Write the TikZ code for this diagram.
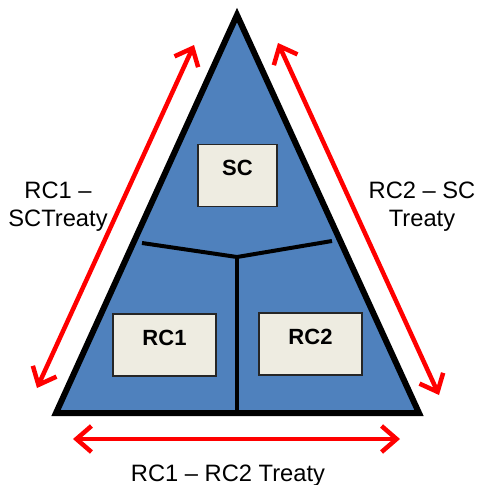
\documentclass[tikz,border=0pt]{standalone}
\usepackage{fontspec}
\setmainfont{Liberation Sans}
\usetikzlibrary{arrows.meta}
\definecolor{triblue}{HTML}{4F81BD}
\definecolor{boxbeige}{HTML}{EEECE1}
\tikzset{
  part/.style={draw=black!85, line width=1.5pt, fill=boxbeige, inner xsep=0pt, inner ysep=0pt,
    text height=31pt, text depth=31pt, font=\fontsize{22}{26}\selectfont\bfseries},
  treaty/.style={red, line width=4.5pt, {Straight Barb[length=15pt,width=26pt]}-{Straight Barb[length=15pt,width=26pt]}},
  caption/.style={align=center, anchor=base, font=\fontsize{23.7}{28}\selectfont}
}
\begin{document}
\begin{tikzpicture}[x=1pt, y=-1pt]
  \useasboundingbox (0,0) rectangle (477,485);
  \coordinate (top) at (237,15);
  \coordinate (left) at (56,413);
  \coordinate (right) at (419,413);
  \draw[line width=6pt, fill=triblue, line join=miter] (top) -- (left) -- (right) -- cycle;
  \coordinate (hub) at (237,257);
  \coordinate (cutl) at (142,243);
  \coordinate (cutr) at (332,241);
  \coordinate (foot) at (237,413);
  \draw[line width=4pt] (cutl) -- (hub) -- (cutr);
  \draw[line width=4pt] (hub) -- (foot);
  \node[part, minimum width=79pt] (sc) at (237.5,175.5) {SC};
  \node[part, minimum width=103pt] (rcone) at (164.5,345) {RC1};
  \node[part, minimum width=103pt] (rctwo) at (310.5,344) {RC2};
  \coordinate (la) at (37,388);
  \coordinate (lb) at (194,45);
  \coordinate (ra) at (278,43);
  \coordinate (rb) at (439,395);
  \coordinate (ba) at (73,439);
  \coordinate (bb) at (400,439);
  \draw[treaty] (la) -- (lb);
  \draw[treaty] (ra) -- (rb);
  \draw[treaty] (ba) -- (bb);
  \node[caption] (lefttext) at (58,226) {RC1 --\\SCTreaty};
  \node[caption] (righttext) at (422,226) {RC2 -- SC\\Treaty};
  \node[caption] (bottomtext) at (228,481) {RC1 -- RC2 Treaty};
\end{tikzpicture}
\end{document}
